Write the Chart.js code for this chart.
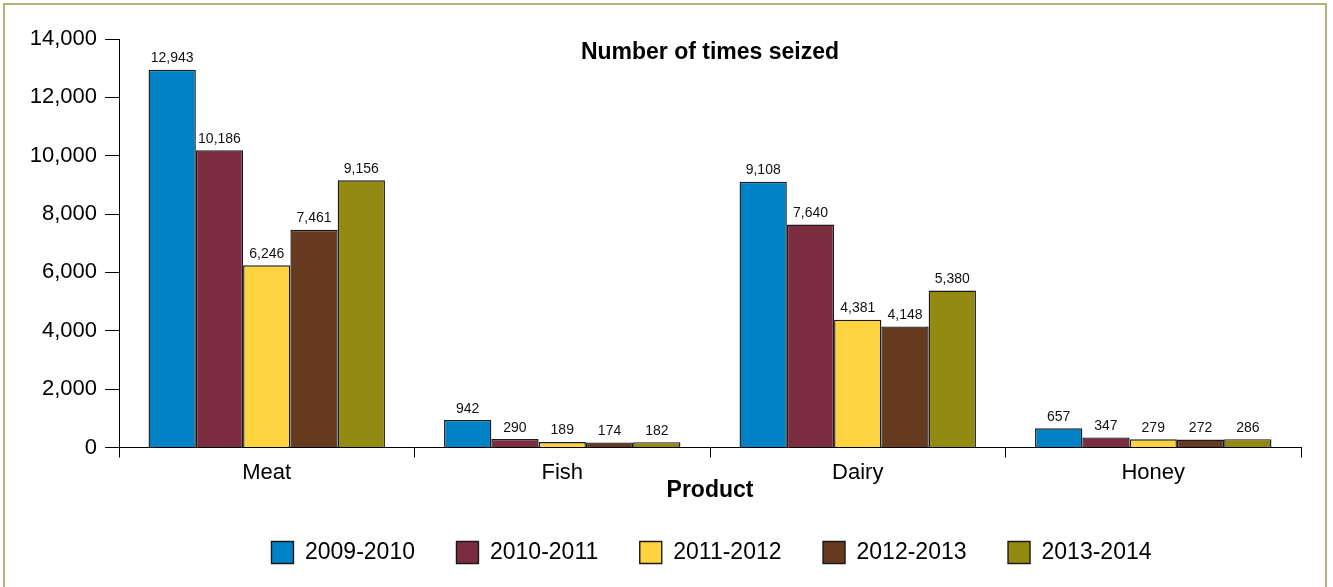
<!DOCTYPE html>
<html>
<head>
<meta charset="utf-8">
<title>Number of times seized</title>
<script src="https://cdn.jsdelivr.net/npm/chart.js@4.4.1/dist/chart.umd.min.js"></script>
<style>
  html, body { margin:0; padding:0; background:#fff; overflow:hidden; }
  #wrap { position:relative; width:1333px; height:587px; }
  #frame { position:absolute; left:3px; top:3px; width:1324px; height:700px;
           box-sizing:border-box; border:2px solid #b8b07a; pointer-events:none; }
</style>
</head>
<body>
<div id="wrap">
  <canvas id="chart"></canvas>
  <div id="frame"></div>
</div>
<script>
/* ---------- Data ---------- */
const CATEGORIES = ['Meat', 'Fish', 'Dairy', 'Honey'];
const YEARS      = ['2009-2010', '2010-2011', '2011-2012', '2012-2013', '2013-2014'];
const S_2009_10  = [12943, 942, 9108, 657];
const S_2010_11  = [10186, 290, 7640, 347];
const S_2011_12  = [6246, 189, 4381, 279];
const S_2012_13  = [7461, 174, 4148, 272];
const S_2013_14  = [9156, 182, 5380, 286];
const Y_TICKS    = [0, 2000, 4000, 6000, 8000, 10000, 12000, 14000];

const COLORS = ['#0081c6', '#7b2d3f', '#ffd23f', '#653a1e', '#938b11'];
const FONT = '"Liberation Sans", Arial, Helvetica, sans-serif';

/* ---------- Plugins ---------- */
// values above bars
const barLabels = {
  id: 'barLabels',
  afterDatasetsDraw(chart){
    const ctx = chart.ctx;
    ctx.save();
    ctx.font = '14px ' + FONT;
    ctx.fillStyle = '#111';
    ctx.textAlign = 'center';
    ctx.textBaseline = 'alphabetic';
    chart.data.datasets.forEach((ds, i)=>{
      chart.getDatasetMeta(i).data.forEach((bar, j)=>{
        ctx.fillText(ds.data[j].toLocaleString('en-US'), bar.x, bar.y - 7.5);
      });
    });
    ctx.restore();
  }
};
// title drawn inside the plot area
const innerTitle = {
  id: 'innerTitle',
  afterDraw(chart){
    const {ctx, chartArea} = chart;
    ctx.save();
    ctx.font = 'bold 23px ' + FONT;
    ctx.fillStyle = '#000';
    ctx.textAlign = 'center';
    ctx.textBaseline = 'alphabetic';
    ctx.fillText('Number of times seized', (chartArea.left + chartArea.right)/2, chartArea.top + 20);
    ctx.restore();
  }
};
// centre the legend under the plot area rather than the whole canvas
const legendShift = {
  id: 'legendShift',
  afterLayout(chart){
    const lg = chart.legend;
    if(!lg) return;
    const dx = 61;
    lg.left += dx; lg.right += dx;
  }
};

const seriesList = [S_2009_10, S_2010_11, S_2011_12, S_2012_13, S_2013_14];

new Chart(document.getElementById('chart'), {
  type: 'bar',
  data: {
    labels: CATEGORIES,
    datasets: YEARS.map((y, i)=>({
      label: y,
      data: seriesList[i],
      backgroundColor: COLORS[i],
      borderColor: '#1a1a1a',
      borderWidth: 1.4,
      categoryPercentage: 0.8,
      barPercentage: 1.0
    }))
  },
  options: {
    responsive: true,
    maintainAspectRatio: false,
    animation: false,
    layout: { padding: { left: 0, right: 32, top: 39, bottom: 13 } },
    plugins: {
      tooltip: { enabled: false },
      legend: {
        position: 'bottom',
        labels: {
          boxWidth: 22, boxHeight: 22, padding: 41.5,
          color: '#000',
          font: { family: FONT, size: 23 }
        }
      }
    },
    scales: {
      x: {
        grid: { drawOnChartArea: false, drawTicks: true, tickLength: 10, color: '#000', offset: true },
        border: { display: true, color: '#000', width: 1 },
        ticks: { color: '#000', padding: 2, font: { family: FONT, size: 22 } },
        title: {
          display: true, text: 'Product', color: '#000',
          padding: { top: 0, bottom: -5 },
          font: { family: FONT, size: 23, weight: 'bold' }
        },
        afterFit(scale){ scale.height = 52; }
      },
      y: {
        min: 0, max: 14000,
        grid: { drawOnChartArea: false, drawTicks: true, tickLength: 14, color: '#000' },
        border: { display: true, color: '#000', width: 1 },
        afterBuildTicks(scale){ scale.ticks = Y_TICKS.map(v=>({ value: v })); },
        ticks: {
          color: '#000', padding: 8,
          font: { family: FONT, size: 22 },
          callback: v => v.toLocaleString('en-US')
        },
        afterFit(scale){ scale.width = 119; }
      }
    }
  },
  plugins: [barLabels, innerTitle, legendShift]
});
</script>
</body>
</html>
